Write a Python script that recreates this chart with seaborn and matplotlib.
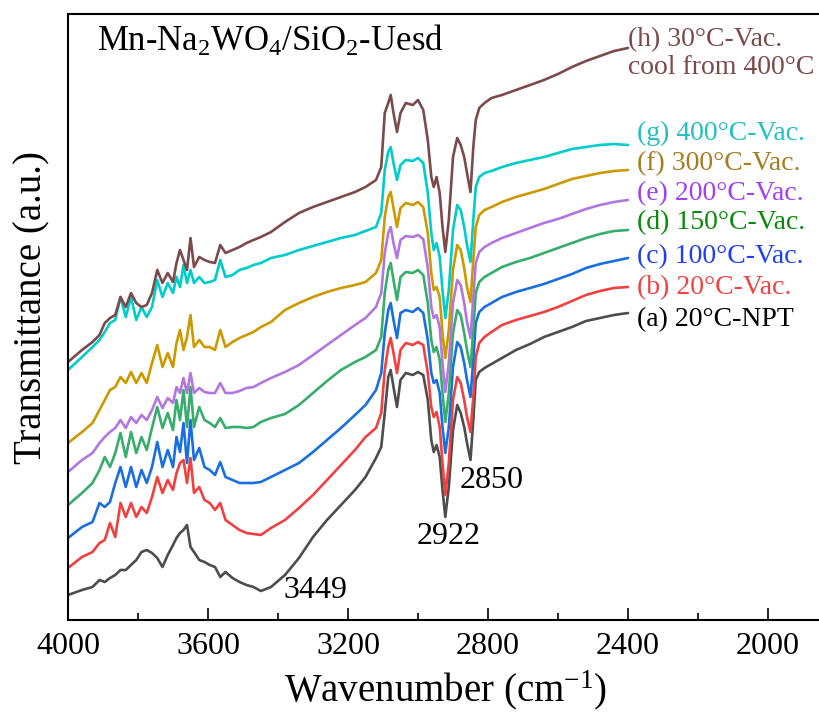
import seaborn as sns
import matplotlib.pyplot as plt
from matplotlib.ticker import MultipleLocator

# wavenumber grid (cm-1) (arbitrary transmittance units, stacked)
wavenumber = [4000, 3960, 3930, 3910, 3895, 3880, 3865, 3850, 3835, 3820,
              3805, 3790, 3775, 3760, 3745, 3730, 3715, 3700, 3690, 3680,
              3670, 3660, 3650, 3640, 3625, 3610, 3595, 3580, 3565, 3550,
              3530, 3510, 3490, 3470, 3449, 3420, 3380, 3340, 3300, 3260,
              3220, 3180, 3150, 3120, 3105, 3095, 3085, 3078, 3070, 3060,
              3050, 3035, 3015, 3000, 2985, 2972, 2962, 2955, 2947, 2938,
              2930, 2922, 2912, 2900, 2888, 2878, 2868, 2860, 2850, 2842,
              2835, 2825, 2810, 2790, 2760, 2720, 2680, 2640, 2600, 2560,
              2520, 2480, 2440, 2400]

a_20C_npt = [25, 30, 33, 40, 38, 42, 45, 50, 50, 55, 60, 68, 70, 67, 62, 53, 65, 75, 82, 87,
             90, 95, 73, 68, 60, 58, 55, 53, 43, 48, 42, 38, 35, 33, 29, 33, 45, 62, 83, 100,
             115, 130, 143, 162, 173, 207, 243, 250, 233, 213, 240, 247, 245, 248, 245, 220, 180, 168, 175, 163,
             130, 103, 133, 190, 215, 207, 193, 177, 160, 200, 240, 248, 252, 256, 262, 270, 276, 283, 288, 293,
             299, 302, 305, 307]
b_20C_vac = [52, 63, 68, 77, 80, 97, 83, 117, 103, 117, 103, 113, 107, 123, 143, 127, 140, 130, 147, 157,
             160, 137, 162, 127, 133, 120, 117, 110, 117, 100, 95, 90, 87, 86, 85, 92, 100, 112, 125, 140,
             155, 170, 183, 192, 207, 250, 273, 282, 267, 247, 270, 277, 275, 278, 275, 247, 213, 203, 208, 193,
             157, 125, 157, 220, 243, 237, 220, 203, 188, 223, 263, 277, 283, 288, 295, 300, 304, 308, 313, 319,
             325, 329, 332, 333]
c_100C_vac = [82, 93, 98, 117, 113, 118, 137, 153, 133, 153, 133, 150, 137, 153, 178, 153, 170, 153, 183, 168,
              197, 157, 200, 160, 172, 153, 150, 145, 158, 143, 140, 137, 137, 137, 138, 143, 150, 157, 168, 180,
              192, 205, 215, 230, 247, 287, 310, 317, 300, 282, 307, 310, 308, 312, 307, 280, 247, 237, 240, 227,
              193, 167, 193, 253, 278, 273, 257, 240, 223, 260, 297, 308, 313, 317, 323, 328, 332, 336, 341, 346,
              352, 356, 359, 362]
d_150C_vac = [115, 127, 137, 150, 163, 153, 167, 187, 163, 188, 167, 183, 170, 192, 213, 192, 207, 190, 220, 200,
              230, 193, 233, 193, 213, 200, 197, 193, 202, 192, 193, 193, 192, 193, 198, 202, 206, 215, 227, 239,
              250, 258, 263, 270, 283, 327, 350, 357, 340, 320, 343, 348, 347, 350, 345, 317, 280, 268, 273, 260,
              227, 198, 227, 287, 310, 305, 287, 270, 253, 290, 327, 338, 343, 347, 353, 358, 362, 367, 372, 377,
              382, 386, 389, 390]
e_200C_vac = [148, 160, 167, 177, 183, 188, 192, 200, 192, 203, 197, 205, 200, 210, 223, 212, 222, 217, 233, 227,
              242, 227, 247, 227, 232, 228, 227, 227, 237, 227, 227, 229, 232, 233, 237, 242, 248, 255, 265, 275,
              285, 295, 302, 313, 327, 367, 387, 393, 377, 362, 380, 384, 383, 385, 381, 352, 313, 302, 305, 293,
              257, 228, 257, 317, 340, 335, 317, 298, 282, 323, 357, 368, 373, 377, 382, 387, 392, 397, 401, 406,
              411, 415, 418, 420]
f_300C_vac = [177, 188, 197, 210, 220, 230, 233, 243, 237, 248, 237, 247, 237, 257, 275, 253, 267, 253, 277, 290,
              270, 283, 305, 273, 280, 273, 273, 270, 290, 273, 278, 282, 285, 288, 293, 298, 310, 317, 323, 328,
              332, 335, 338, 347, 360, 403, 423, 428, 412, 393, 412, 417, 415, 418, 413, 387, 347, 330, 333, 323,
              287, 262, 290, 350, 375, 370, 352, 333, 318, 360, 393, 405, 410, 413, 418, 423, 427, 431, 436, 441,
              444, 447, 449, 450]
g_400C_vac = [250, 263, 273, 280, 288, 297, 300, 323, 303, 323, 300, 313, 303, 313, 340, 323, 337, 327, 343, 333,
              355, 337, 350, 337, 343, 337, 338, 340, 360, 343, 345, 350, 352, 355, 357, 362, 365, 370, 374, 378,
              382, 385, 389, 393, 407, 450, 468, 473, 457, 440, 455, 460, 459, 462, 457, 427, 387, 370, 377, 363,
              330, 302, 330, 390, 415, 410, 393, 375, 358, 400, 433, 443, 447, 449, 453, 457, 460, 463, 467, 471,
              473, 475, 476, 475]
h_30C_vac_cooled = [258, 270, 278, 285, 297, 302, 305, 323, 313, 327, 317, 313, 315, 327, 350, 337, 347, 338, 357, 370,
                    360, 350, 382, 353, 363, 360, 358, 357, 375, 367, 370, 373, 377, 380, 383, 388, 398, 407, 413, 418,
                    423, 428, 433, 440, 453, 507, 517, 525, 507, 488, 507, 517, 515, 520, 510, 480, 443, 433, 443, 427,
                    393, 368, 400, 463, 482, 475, 463, 447, 428, 473, 500, 512, 517, 522, 525, 530, 535, 540, 546, 553,
                    559, 564, 569, 572]

labels = ["(a) 20°C-NPT", "(b) 20°C-Vac.", "(c) 100°C-Vac.", "(d) 150°C-Vac.",
          "(e) 200°C-Vac.", "(f) 300°C-Vac.", "(g) 400°C-Vac.", "(h) 30°C-Vac.\ncool from 400°C"]
label_y = [300, 332, 363, 397, 426, 456, 487, 566]
line_colors = ["#4D4D4D", "#F04040", "#1A6FDF", "#37AD6B", "#B177DE", "#CC9900", "#00CCCC", "#7B4B4B"]
text_colors = ["#000000", "#EE4444", "#2040F0", "#0A8A0A", "#A040F0", "#A67C20", "#22C0C0", "#7B4B4B"]
spectra = [a_20C_npt, b_20C_vac, c_100C_vac, d_150C_vac, e_200C_vac, f_300C_vac, g_400C_vac, h_30C_vac_cooled]

peak_labels = ["3449", "2922", "2850"]
peak_x = [3294, 2912, 2790]
peak_y = [30, 83, 139]

sns.set_style("ticks")
plt.rcParams["font.family"] = ["Liberation Serif", "DejaVu Serif"]
plt.rcParams["mathtext.fontset"] = "custom"
plt.rcParams["mathtext.rm"] = "Liberation Serif"
plt.rcParams["mathtext.it"] = "Liberation Serif:italic"
plt.rcParams["text.color"] = "black"
plt.rcParams["axes.labelcolor"] = "black"
plt.rcParams["xtick.color"] = "black"

fig = plt.figure(figsize=(8.19, 7.16), dpi=100)
ax = fig.add_axes([68 / 819, 96 / 716, 770 / 819, 606 / 716])

for vals, lc in zip(spectra, line_colors):
    sns.lineplot(x=wavenumber, y=vals, color=lc, lw=1.9, ax=ax,
                 solid_joinstyle="round", solid_capstyle="round")

for lab, y, tc in zip(labels, label_y, text_colors):
    x = 2400 if lab.startswith("(h)") else 2374
    ax.text(x, y, lab, color=tc, fontsize=20, ha="left", va="center", linespacing=1.15)

for t, x, y in zip(peak_labels, peak_x, peak_y):
    ax.text(x, y, t, fontsize=23, ha="center", va="center")

ax.text(0.038, 0.955, r"Mn-Na$_\mathrm{2}$WO$_\mathrm{4}$/SiO$_\mathrm{2}$-Uesd",
        transform=ax.transAxes, fontsize=25, ha="left", va="center")

ax.set_xlim(4000, 1800)
ax.set_ylim(0, 606)
ax.xaxis.set_major_locator(MultipleLocator(400))
ax.xaxis.set_minor_locator(MultipleLocator(200))
ax.set_yticks([])
ax.tick_params(axis="x", which="major", direction="in", length=8.5, width=1.2,
               labelsize=23, pad=9, colors="black")
ax.tick_params(axis="x", which="minor", direction="in", length=5, width=1.2, colors="black")
for s in ax.spines.values():
    s.set_linewidth(1.5)
    s.set_color("black")

ax.set_xlabel(r"Wavenumber (cm$^\mathrm{-1}$)", fontsize=28, va="center")
ax.xaxis.set_label_coords(0.49, -0.115)
ax.set_ylabel("Transmittance (a.u.)", fontsize=28, va="center")
ax.yaxis.set_label_coords(-0.047, 0.516)

fig.savefig("out.png", dpi=100)
